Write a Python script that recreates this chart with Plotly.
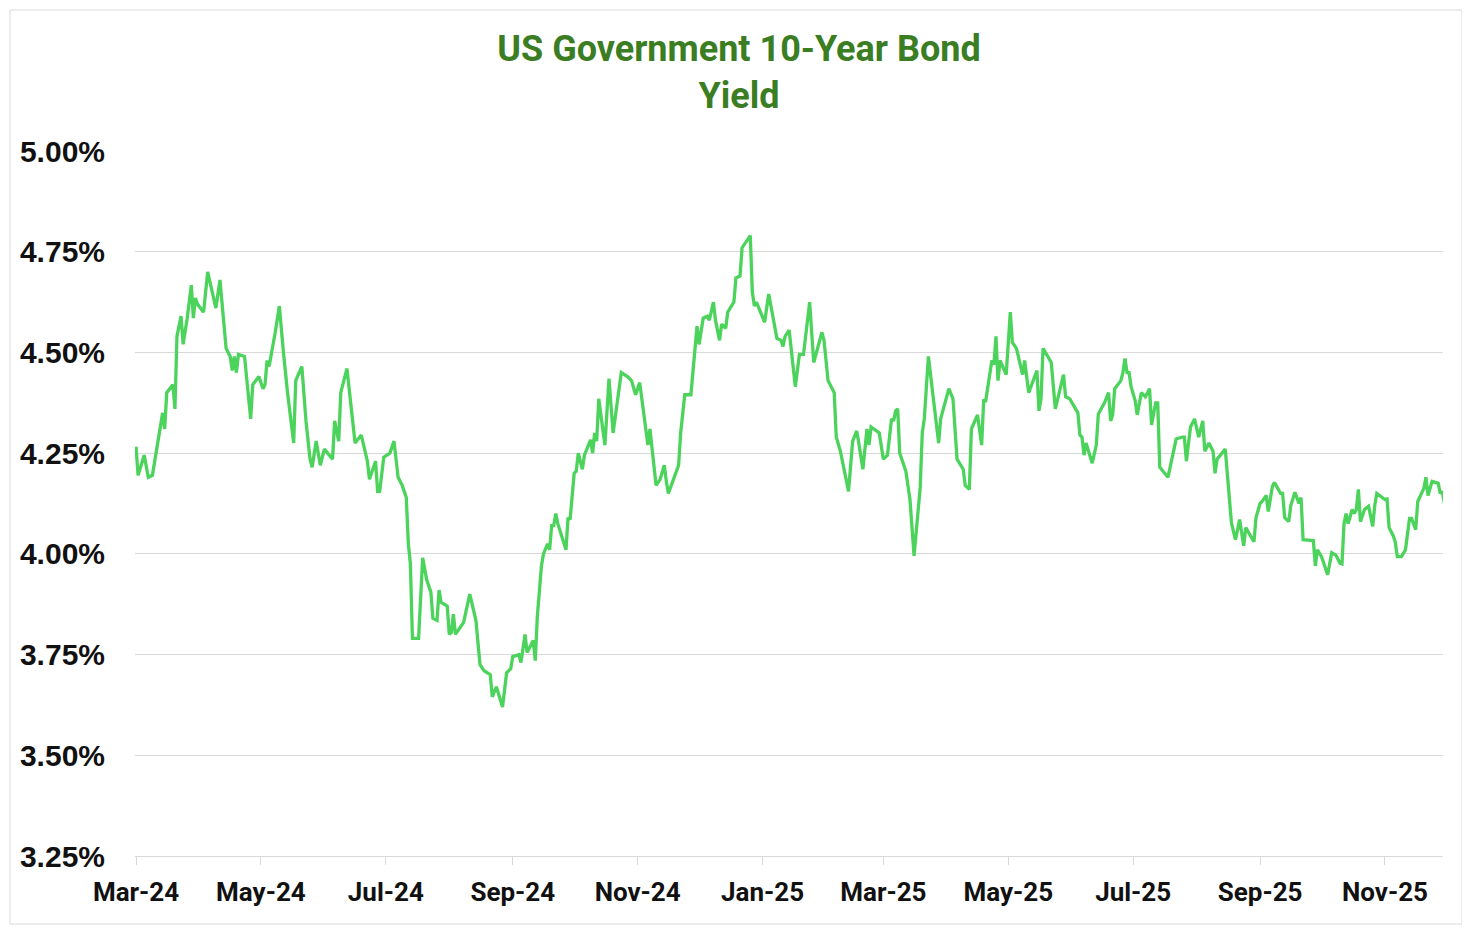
import pandas as pd
import plotly.graph_objects as go

start_date = "2024-03-01"
day_offsets = [0,1,4,6,8,12,13,14,15,18,19,20,22,23,25,27,28,29,30,33,35,39,41,44,46,47,48,49,50,53,
56,57,60,62,63,64,65,68,70,72,74,77,78,81,83,85,86,88,90,92,96,97,99,100,103,107,110,113,114,117,
118,119,121,124,126,128,130,132,133,134,135,138,140,142,144,145,147,148,149,152,153,154,155,156,160,163,166,168,170,173,
174,176,179,181,183,184,187,188,190,191,194,195,196,198,199,201,202,203,204,205,206,210,211,212,214,215,216,218,219,222,
223,224,225,226,229,231,233,237,240,242,244,246,250,251,254,256,258,259,260,265,266,268,271,274,275,277,279,280,282,283,
285,286,288,289,292,293,295,296,300,301,302,303,307,309,313,315,316,317,319,322,324,326,329,331,335,336,338,341,342,344,
348,350,352,353,355,357,358,359,362,363,365,367,369,370,371,372,373,376,378,380,383,384,385,387,392,393,397,399,401,404,
405,407,408,411,413,414,415,418,419,420,421,422,425,427,428,430,433,434,436,440,441,442,443,447,449,453,454,456,460,461,
462,463,464,467,469,470,473,475,476,477,478,481,482,483,484,485,486,488,489,491,493,495,496,498,499,500,504,506,508,511,
512,513,515,517,519,521,522,524,526,527,528,532,535,537,539,541,542,546,547,549,550,552,553,555,556,559,560,561,563,564,
566,568,569,570,575,576,577,579,582,584,586,588,589,590,591,592,593,594,595,596,597,598,600,602,604,605,606,608,610,611,
612,614,615,616,618,620,622,623,625,626,628,629,630,631,633,636,637,638,639]

yield_pct = [4.266,4.195,4.245,4.19,4.195,4.31,4.35,4.31,4.40,4.42,4.36,4.54,4.59,4.52,4.585,4.667,4.585,4.635,4.62,4.60,
4.70,4.61,4.68,4.51,4.49,4.455,4.49,4.45,4.495,4.49,4.335,4.42,4.44,4.41,4.42,4.48,4.465,4.55,4.615,4.50,
4.40,4.275,4.43,4.465,4.33,4.235,4.215,4.28,4.22,4.26,4.235,4.33,4.28,4.40,4.46,4.275,4.295,4.23,4.185,4.23,
4.155,4.155,4.24,4.25,4.28,4.19,4.17,4.14,4.025,3.975,3.79,3.79,3.99,3.935,3.905,3.84,3.835,3.91,3.88,3.87,
3.80,3.805,3.85,3.80,3.83,3.90,3.835,3.725,3.71,3.70,3.645,3.67,3.62,3.705,3.715,3.745,3.75,3.73,3.80,3.755,
3.785,3.735,3.845,3.97,4.00,4.025,4.01,4.07,4.07,4.10,4.075,4.01,4.09,4.085,4.20,4.205,4.25,4.21,4.245,4.283,
4.25,4.30,4.28,4.385,4.27,4.435,4.30,4.45,4.44,4.43,4.395,4.425,4.27,4.31,4.17,4.185,4.22,4.18,4.15,4.22,
4.30,4.395,4.395,4.565,4.52,4.585,4.59,4.58,4.625,4.58,4.53,4.57,4.56,4.60,4.625,4.685,4.69,4.76,4.79,4.65,
4.615,4.625,4.575,4.645,4.535,4.53,4.515,4.54,4.555,4.415,4.495,4.495,4.625,4.475,4.55,4.53,4.43,4.40,4.29,4.255,
4.155,4.28,4.305,4.275,4.21,4.31,4.27,4.315,4.305,4.30,4.235,4.245,4.335,4.33,4.355,4.36,4.25,4.205,4.135,3.995,
4.165,4.30,4.335,4.49,4.275,4.335,4.41,4.385,4.235,4.21,4.17,4.16,4.31,4.345,4.27,4.38,4.38,4.48,4.47,4.54,
4.43,4.48,4.445,4.60,4.525,4.51,4.445,4.48,4.40,4.455,4.355,4.385,4.51,4.475,4.36,4.445,4.39,4.385,4.35,4.295,
4.29,4.245,4.275,4.225,4.27,4.347,4.375,4.40,4.33,4.345,4.41,4.43,4.45,4.485,4.45,4.45,4.415,4.38,4.345,4.40,
4.39,4.41,4.32,4.375,4.375,4.215,4.19,4.24,4.285,4.29,4.29,4.23,4.315,4.335,4.29,4.33,4.255,4.275,4.255,4.20,
4.235,4.26,4.077,4.035,4.085,4.02,4.065,4.03,4.09,4.125,4.13,4.145,4.105,4.167,4.177,4.15,4.15,4.09,4.08,4.12,
4.153,4.125,4.14,4.035,4.033,3.97,4.01,3.993,3.948,4.003,3.997,3.977,3.975,4.076,4.10,4.075,4.093,4.11,4.10,4.11,
4.16,4.08,4.11,4.118,4.068,4.12,4.15,4.143,4.135,4.136,4.065,4.045,4.03,3.993,3.993,4.01,4.088,4.088,4.06,4.13,
4.15,4.163,4.19,4.145,4.18,4.175,4.15,4.155,4.125]

y_ticks = [3.25, 3.50, 3.75, 4.00, 4.25, 4.50, 4.75, 5.00]
y_tick_labels = ["3.25%", "3.50%", "3.75%", "4.00%", "4.25%", "4.50%", "4.75%", "5.00%"]
x_tick_dates = ["2024-03-01","2024-05-01","2024-07-01","2024-09-01","2024-11-01","2025-01-01",
                "2025-03-01","2025-05-01","2025-07-01","2025-09-01","2025-11-01"]
x_tick_labels = ["Mar-24","May-24","Jul-24","Sep-24","Nov-24","Jan-25",
                 "Mar-25","May-25","Jul-25","Sep-25","Nov-25"]

dates = pd.Timestamp(start_date) + pd.to_timedelta(day_offsets, unit="D")

GRID = "#d9d9d9"
W, H = 1462, 924
L, R, T, B = 127, 27, 143, 76
PW, PH = W - L - R, H - T - B

fig = go.Figure()
fig.add_trace(go.Scatter(
    x=dates, y=yield_pct, mode="lines",
    line=dict(color="#4cd35c", width=3.3),
    name="US 10Y", hoverinfo="x+y"))

fig.update_layout(
    width=W, height=H,
    margin=dict(l=L, r=R, t=T, b=B),
    paper_bgcolor="white", plot_bgcolor="white",
    showlegend=False,
    title=dict(text="US Government 10-Year Bond<br>Yield",
               x=0.5, xanchor="center", y=1 - 53 / H, yanchor="middle",
               font=dict(family="Roboto", size=36, color="#3a7d22", weight=700)),
    xaxis=dict(
        range=["2024-02-29 12:00", "2025-11-29 08:00"],
        tickmode="array", tickvals=x_tick_dates, ticktext=x_tick_labels,
        showgrid=False, showline=True, linecolor=GRID, linewidth=1,
        ticks="outside", ticklen=8, tickcolor=GRID, tickwidth=1,
        tickfont=dict(family="Roboto", size=26, color="#111111", weight=700),
        ticklabelstandoff=5,
    ),
    yaxis=dict(
        range=[3.25, 5.0], tickmode="array", tickvals=y_ticks, ticktext=y_tick_labels,
        showgrid=True, gridcolor=GRID, gridwidth=1,
        zeroline=False, showline=False, ticks="",
        tickfont=dict(family="Liberation Sans", size=30, color="#111111", weight=700),
        ticklabelstandoff=29,
    ),
)

fig.add_shape(type="rect", xref="paper", yref="paper",
              x0=(2 - L) / PW, x1=(1454 - L) / PW,
              y0=(H - B - 916) / PH, y1=(H - B - 2) / PH,
              line=dict(color=GRID, width=1), fillcolor="rgba(0,0,0,0)", layer="below")

fig.write_html("out.html")
